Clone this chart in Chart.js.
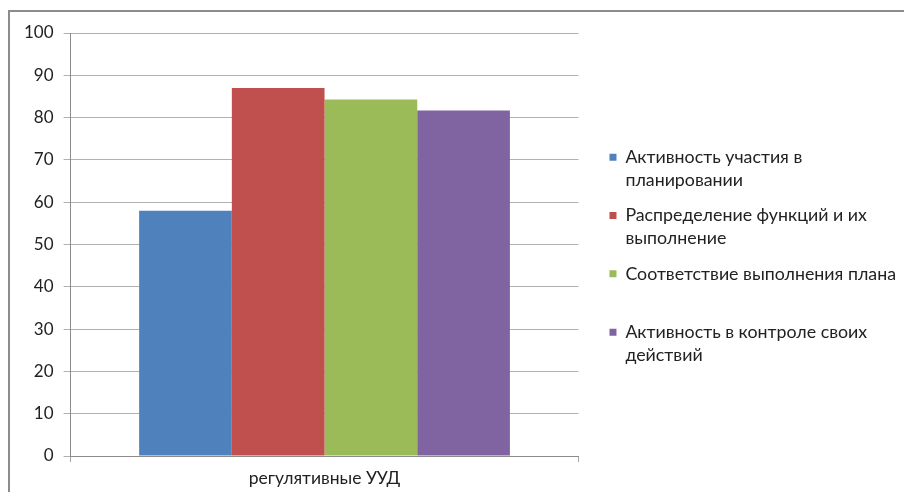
<!DOCTYPE html>
<html>
<head>
<meta charset="utf-8">
<script src="https://cdn.jsdelivr.net/npm/chart.js@4"></script>
<style>
  html, body { margin: 0; padding: 0; background: #fff; overflow: hidden; }
  #wrap { width: 904px; height: 492px; position: relative; }
</style>
</head>
<body>
<div id="wrap"><canvas id="myChart"></canvas></div>
<script>
// data
var categories = ['регулятивные УУД'];
var seriesNames = [
    ['Активность участия в', 'планировании'],
    ['Распределение функций и их', 'выполнение'],
    ['Соответствие выполнения плана', ''],
    ['Активность в контроле своих', 'действий']
];
var seriesValues = [58, 87, 84.3, 81.7];
var seriesColors = ['#4F81BD', '#C0504D', '#9BBB59', '#8064A2'];
var yTicks = [0, 10, 20, 30, 40, 50, 60, 70, 80, 90, 100];

var FONT = 'Lato';

var datasets = [];
for (i = 0; i < seriesValues.length; i++) {
    datasets.push({
        label: seriesNames[i],
        data: [seriesValues[i]],
        backgroundColor: seriesColors[i],
        borderWidth: 0
    });
}

// grey frame on top and left, like the original picture
var framePlugin = {
    id: 'frame',
    beforeDraw: function (chart) {
        var c = chart.ctx;
        c.save();
        c.fillStyle = '#fff';
        c.fillRect(0, 0, chart.width, chart.height);
        c.strokeStyle = '#8c8c8c';
        c.lineWidth = 2;
        c.beginPath();
        c.moveTo(9, chart.height);
        c.lineTo(9, 11);
        c.lineTo(chart.width, 11);
        c.stroke();
        c.restore();
    }
};

let ctx = document.getElementById('myChart').getContext('2d');

let myChart = new Chart(ctx, {
    type: 'bar',
    data: {
        labels: categories,
        datasets: datasets
    },
    options: {
        responsive: true,
        maintainAspectRatio: false,
        animation: false,
        layout: {
            padding: { left: 14, right: -2, top: 33, bottom: -3 }
        },
        datasets: {
            bar: { categoryPercentage: 0.73, barPercentage: 1 }
        },
        scales: {
            x: {
                offset: true,
                grid: { drawOnChartArea: false, offset: true, color: '#a6a6a6', tickLength: 6 },
                border: { color: '#8c8c8c', width: 1 },
                ticks: { color: '#222', padding: 6, font: { family: FONT, size: 17.5 } }
            },
            y: {
                min: 0,
                max: 100,
                afterBuildTicks: function (axis) {
                    axis.ticks = yTicks.map(function (v) { return { value: v }; });
                },
                grid: { color: '#b0b0b0', tickLength: 7 },
                border: { color: '#8c8c8c', width: 1 },
                ticks: { color: '#222', padding: 10, font: { family: FONT, size: 17 } }
            },
            // empty axis only to keep a gap between the plot and the legend
            gap: {
                position: 'right',
                grid: { display: false },
                border: { display: false },
                ticks: { display: false },
                afterFit: function (axis) { axis.width = 19; }
            }
        },
        plugins: {
            legend: {
                display: true,
                position: 'right',
                align: 'start',
                maxWidth: 400,
                title: { display: true, text: '', padding: { top: 89, bottom: 0 } },
                labels: {
                    boxWidth: 7,
                    boxHeight: 7,
                    padding: 12,
                    color: '#222',
                    font: { family: FONT, size: 17.8, lineHeight: 1.3 }
                }
            },
            tooltip: { enabled: false }
        }
    },
    plugins: [framePlugin]
});
</script>
</body>
</html>
